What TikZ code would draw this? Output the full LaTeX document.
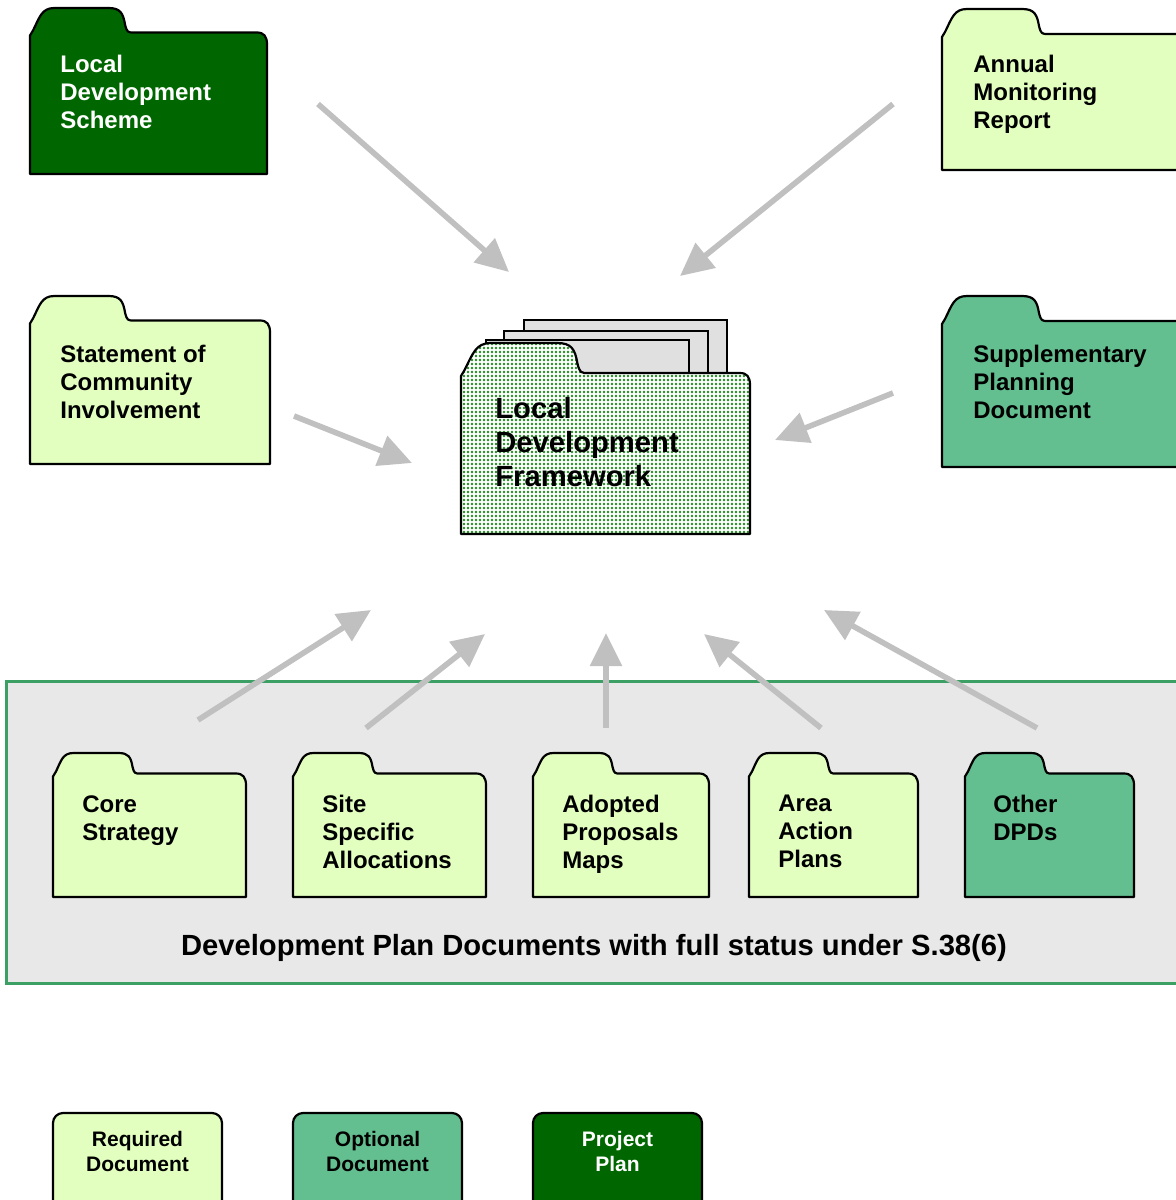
\documentclass[tikz,border=0pt]{standalone}
\usepackage{fontspec}
\setmainfont{Liberation Sans}
\usetikzlibrary{arrows.meta, patterns.meta}

\definecolor{darkgreen}{RGB}{0,102,0}
\definecolor{palegreen}{RGB}{227,255,192}
\definecolor{midgreen}{RGB}{99,191,143}
\definecolor{boxgrey}{RGB}{232,232,232}
\definecolor{boxline}{RGB}{60,160,100}
\definecolor{arrowgrey}{RGB}{192,192,192}
\definecolor{papergrey}{RGB}{224,224,224}
\definecolor{dotgreen}{RGB}{30,140,30}

% folder outline: #1 style, #2 left, #3 top of tab, #4 right, #5 bottom, #6 tab width
\newcommand{\folder}[6]{%
	\draw [#1] (#2, #3 + 0.25*#6 + 3) -- (#2 + 3, #3 + 0.25*#6 - 2)
		.. controls (#2 + 0.1*#6, #3 + 0.09*#6) and (#2 + 0.12*#6, #3) .. (#2 + 0.25*#6, #3)
		-- (#2 + 0.8*#6, #3)
		.. controls (#2 + 0.92*#6, #3) and (#2 + 0.95*#6, #3 + 0.05*#6) .. (#2 + 0.97*#6, #3 + 0.17*#6)
		.. controls (#2 + 0.99*#6, #3 + 0.25*#6) and (#2 + #6, #3 + 0.25*#6) .. (#2 + 1.06*#6, #3 + 0.25*#6)
		-- (#4 - 10, #3 + 0.25*#6)
		.. controls (#4 - 3, #3 + 0.25*#6) and (#4, #3 + 0.25*#6 + 4) .. (#4, #3 + 0.25*#6 + 12)
		-- (#4, #5) -- (#2, #5) -- cycle;}

\begin{document}
\begin{tikzpicture}[x = 0.5pt, y = -0.5pt,
	folderbox/.style = {draw = black, line width = 1.1pt, line join = round},
	foldertext/.style = {anchor = north west, align = left, inner sep = 0pt,
		font = \bfseries\fontsize{12}{14}\selectfont},
	link/.style = {draw = arrowgrey, line width = 2.8pt, -{Triangle[length = 16.5pt, width = 15.5pt]}},
	legendbox/.style = {draw = black, line width = 1.1pt, rounded corners = 5pt},
	legendtext/.style = {align = center, inner sep = 0pt, font = \bfseries\fontsize{10.5}{12.5}\selectfont}]

	\useasboundingbox (0, 0) rectangle (1176, 1200);

	% top row
	\folder{folderbox, fill = darkgreen}{30}{8}{267}{174}{98}
	\node [foldertext, text = white] (lds) at (60, 55) {Local\\Development\\Scheme};

	\folder{folderbox, fill = palegreen}{942}{9}{1190}{170}{100}
	\node [foldertext] (amr) at (973, 55) {Annual\\Monitoring\\Report};

	\folder{folderbox, fill = palegreen}{30}{296}{270}{464}{98}
	\node [foldertext] (sci) at (60, 345) {Statement of\\Community\\Involvement};

	\folder{folderbox, fill = midgreen}{942}{296}{1190}{467}{100}
	\node [foldertext] (spd) at (973, 345) {Supplementary\\Planning\\Document};

	% centre folder with papers
	\foreach \l/\t/\r in {524/320/727, 504/331/708, 486/340/689}
		\draw [fill = papergrey, line width = 1pt] (\l, 420) -- (\l, \t) -- (\r, \t) -- (\r, 420);
	\folder{folderbox, preaction = {fill = white}, pattern = {Dots[distance = 2pt, radius = 0.65pt]}, pattern color = dotgreen}{461}{343}{750}{534}{120}
	\node [foldertext, font = \bfseries\fontsize{14.6}{17}\selectfont] (ldf) at (495, 397) {Local\\Development\\Framework};

	% development plan documents
	\draw [fill = boxgrey, draw = boxline, line width = 1.5pt] (6, 681) rectangle (1190, 983);
	\node [anchor = base, inner sep = 0pt, font = \bfseries\fontsize{14.6}{17}\selectfont] (dpd) at (594, 955)
		{Development Plan Documents with full status under S.38(6)};

	\folder{folderbox, fill = palegreen}{53}{753}{246}{897}{82}
	\node [foldertext] (cs) at (82, 795) {Core\\Strategy};

	\folder{folderbox, fill = palegreen}{293}{753}{486}{897}{82}
	\node [foldertext] (ssa) at (322, 795) {Site\\Specific\\Allocations};

	\folder{folderbox, fill = palegreen}{533}{753}{709}{897}{82}
	\node [foldertext] (apm) at (562, 795) {Adopted\\Proposals\\Maps};

	\folder{folderbox, fill = palegreen}{749}{753}{918}{897}{82}
	\node [foldertext] (aap) at (778, 795) {Area\\Action\\Plans};

	\folder{folderbox, fill = midgreen}{965}{753}{1134}{897}{82}
	\node [foldertext] (odpd) at (993, 795) {Other\\DPDs};

	% arrows
	\foreach \n/\xa/\ya/\xb/\yb in {lds/318/104/509/272, amr/893/104/680/276, sci/294/416/412/463,
		spd/893/393/775/440, cs/198/720/371/610, ssa/366/728/485/634, apm/606/728/606/633,
		aap/821/728/704/634, odpd/1037/728/824/610} {
		\coordinate (\n-from) at (\xa, \ya);
		\coordinate (\n-to) at (\xb, \yb);
		\draw [link] (\n-from) -- (\n-to);
	}

	% legend
	\draw [legendbox, fill = palegreen] (53, 1113) rectangle (222, 1230);
	\node [legendtext] (req) at (137.5, 1151) {Required\\Document};
	\draw [legendbox, fill = midgreen] (293, 1113) rectangle (462, 1230);
	\node [legendtext] (opt) at (377.5, 1151) {Optional\\Document};
	\draw [legendbox, fill = darkgreen] (533, 1113) rectangle (702, 1230);
	\node [legendtext, text = white] (pp) at (617.5, 1151) {Project\\Plan};

\end{tikzpicture}
\end{document}
